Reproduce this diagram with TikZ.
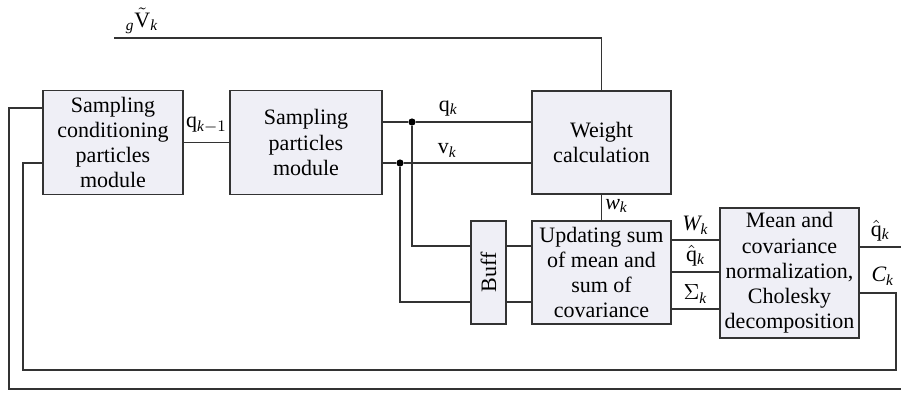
\documentclass[tikz,border=0pt]{standalone}
\usepackage{fontspec}
\setmainfont{Liberation Serif}
\usepackage{amsmath}
\usetikzlibrary{positioning}
\definecolor{boxfill}{HTML}{EFEFF6}
\definecolor{wire}{HTML}{333333}
\newcommand{\ik}{\mathit{k}}

\begin{document}
\begin{tikzpicture}[x=0.5pt,y=-0.5pt,
  font=\fontsize{11}{12.6}\selectfont,
  blk/.style={draw=wire,fill=boxfill,line width=0.75pt,align=center,inner sep=0pt},
  wr/.style={draw=wire,line width=0.75pt},
  lbl/.style={inner sep=1.5pt},
  dot/.style={fill=black,circle,inner sep=0pt,minimum size=3.6pt}]
\useasboundingbox (0,0) rectangle (901,392);
% blocks
\node[blk,minimum width=70pt,minimum height=52pt] (cond) at (113,142.5) {Sampling\\conditioning\\particles\\module};
\node[blk,minimum width=76pt,minimum height=52pt] (samp) at (306,142.5) {Sampling\\particles\\module};
\node[blk,minimum width=69.5pt,minimum height=51.5pt] (wgt) at (601.5,142.5) {Weight\\calculation};
\node[blk,minimum width=69.5pt,minimum height=51.5pt] (upd) at (601.5,272.5) {Updating sum\\of mean and\\sum of\\covariance};
\node[blk,minimum width=51.5pt,minimum height=17.5pt,rotate=90] (buff) at (488.5,272.5) {Buff};
\node[blk,minimum width=69.5pt,minimum height=65pt] (mean) at (789.5,273) {Mean and\\covariance\\normalization,\\Cholesky\\decomposition};
% junctions and free ends
\node[dot] (jq) at (412,122) {};
\node[dot] (jv) at (400,163) {};
\coordinate (gv) at (114,38);
\coordinate (qout) at (901,247);
\coordinate (loopin) at (23,370);
\coordinate (loopout) at (9,389);
% connectors
\draw[wr] (cond) -- node[lbl,above=3pt]{$\mathrm{q}_{\ik-1}$} (samp);
\draw[wr] (samp.east |- jq) -- (jq) -- node[lbl,above=1pt,pos=0.28]{$\mathrm{q}_{\ik}$} (wgt.west |- jq);
\draw[wr] (samp.east |- jv) -- (jv) -- node[lbl,above=1pt,pos=0.34]{$\mathrm{v}_{\ik}$} (wgt.west |- jv);
\draw[wr] (wgt.north) |- (gv) node[lbl,above right=0pt and 4pt]{${}_{\mathit{g}}\tilde{\mathrm{V}}_{\ik}$};
\draw[wr] (jq) |- (buff.north |- 0,246);
\draw[wr] (jv) |- (buff.north |- 0,302);
\draw[wr] (buff.south |- 0,246) -- (upd.west |- 0,246);
\draw[wr] (buff.south |- 0,302) -- (upd.west |- 0,302);
\draw[wr] (wgt) -- node[lbl,right,pos=0.45]{$\mathit{w}_{\ik}$} (upd);
\draw[wr] (upd.east |- 0,240) -- node[lbl,above=1pt]{$\mathit{W}_{\ik}$} (mean.west |- 0,240);
\draw[wr] (upd.east |- 0,272) -- node[lbl,above=1pt]{$\hat{\mathrm{q}}_{\ik}$} (mean.west |- 0,272);
\draw[wr] (upd.east |- 0,309) -- node[lbl,above=1pt]{$\Sigma_{\ik}$} (mean.west |- 0,309);
\draw[wr] (mean.east |- qout) -- node[lbl,above=1pt]{$\hat{\mathrm{q}}_{\ik}$} (qout);
\draw[wr] (mean.east |- 0,293) node[lbl,above right=2pt and 4pt]{$\mathit{C}_{\ik}$} -| (896,370) -- (loopin) |- (cond.west |- 0,163);
\draw[wr] (901,389) -- (loopout) |- (cond.west |- 0,108);
\end{tikzpicture}
\end{document}
